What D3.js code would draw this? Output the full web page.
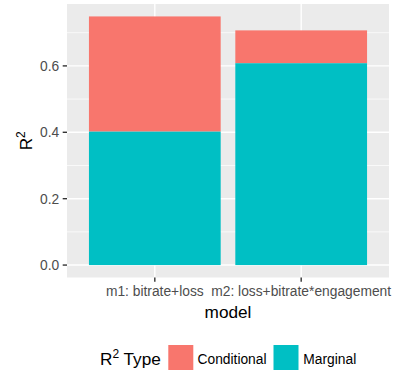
<!DOCTYPE html>
<html><head><meta charset="utf-8">
<script src="https://cdn.jsdelivr.net/npm/d3@7"></script>
<style>body{margin:0;background:#fff}text{font-family:"Liberation Sans",Arial,sans-serif}</style>
</head><body><svg id="c" width="394" height="374"></svg>
<script>
const models = ["m1: bitrate+loss", "m2: loss+bitrate*engagement"];
const marginal = [0.402, 0.608];
const conditional = [0.749, 0.707];
const yTicks = [0.0, 0.2, 0.4, 0.6];
const types = ["Conditional", "Marginal"];
const colors = ["#F8766D", "#00BFC4"];

const svg = d3.select("#c");
const L = 67, R = 389, T = 4, B = 277.5;
const FS = 13.8, TS = 17.2;
// ggplot discrete axis: expand 0.6 each side, bar width 0.9
const xc = d3.scaleLinear().domain([0.4, models.length + 0.6]).range([L, R]);
const ymax = d3.max(conditional);
const y = d3.scaleLinear().domain([-0.05*ymax, ymax*1.05]).range([B, T]);

svg.append("rect").attr("x", L).attr("y", T).attr("width", R-L).attr("height", B-T).attr("fill", "#EBEBEB");
const minor = [0.1, 0.3, 0.5, 0.7];
svg.selectAll(".mn").data(minor).enter().append("line")
  .attr("x1", L).attr("x2", R).attr("y1", d=>y(d)).attr("y2", d=>y(d))
  .attr("stroke", "#fff").attr("stroke-width", 0.7);
svg.selectAll(".mj").data(yTicks).enter().append("line")
  .attr("x1", L).attr("x2", R).attr("y1", d=>y(d)).attr("y2", d=>y(d))
  .attr("stroke", "#fff").attr("stroke-width", 1.4);
svg.selectAll(".vx").data(models).enter().append("line")
  .attr("x1", (d,i)=>xc(i+1)).attr("x2", (d,i)=>xc(i+1)).attr("y1", T).attr("y2", B)
  .attr("stroke", "#fff").attr("stroke-width", 1.4);

const bw = xc(1.45) - xc(0.55);
models.forEach((m,i)=>{
  svg.append("rect").attr("x", xc(i+1)-bw/2).attr("width", bw)
    .attr("y", y(conditional[i])).attr("height", y(marginal[i]) - y(conditional[i])).attr("fill", colors[0]);
  svg.append("rect").attr("x", xc(i+1)-bw/2).attr("width", bw)
    .attr("y", y(marginal[i])).attr("height", y(0) - y(marginal[i])).attr("fill", colors[1]);
});

// y axis
yTicks.forEach(t=>{
  svg.append("line").attr("x1", L-4.3).attr("x2", L).attr("y1", y(t)).attr("y2", y(t)).attr("stroke", "#333").attr("stroke-width", 1.4);
  svg.append("text").attr("x", L-7.8).attr("y", y(t)).attr("dy", "0.36em").attr("text-anchor", "end")
    .attr("font-size", FS).attr("fill", "#4D4D4D").text(d3.format(".1f")(t));
});
// x axis
models.forEach((m,i)=>{
  svg.append("line").attr("x1", xc(i+1)).attr("x2", xc(i+1)).attr("y1", B).attr("y2", B+4.3).attr("stroke", "#333").attr("stroke-width", 1.4);
  svg.append("text").attr("x", xc(i+1)).attr("y", 296).attr("text-anchor", "middle")
    .attr("font-size", FS).attr("fill", "#4D4D4D").text(m);
});
svg.append("text").attr("x", (L+R)/2).attr("y", 317.5).attr("text-anchor", "middle").attr("font-size", TS).attr("fill", "#000").text("model");
const yt = svg.append("text").attr("transform", `translate(31.5,${(T+B)/2}) rotate(-90)`).attr("text-anchor", "middle").attr("font-size", TS).attr("fill", "#000");
yt.append("tspan").text("R");
yt.append("tspan").attr("font-size", 12).attr("dy", -7).text("2");

// legend
const lt = svg.append("text").attr("x", 100).attr("y", 365).attr("font-size", TS).attr("fill", "#000");
lt.append("tspan").text("R");
lt.append("tspan").attr("font-size", 12).attr("dy", -7).text("2");
lt.append("tspan").attr("dy", 7).text(" Type");
const keyX = [168.3, 273.5], txtX = [197.5, 303.3];
types.forEach((t,i)=>{
  svg.append("rect").attr("x", keyX[i]).attr("y", 345).attr("width", 25).attr("height", 25).attr("fill", colors[i]);
  svg.append("text").attr("x", txtX[i]).attr("y", 363.5).attr("font-size", FS).attr("fill", "#000").text(t);
});
</script></body></html>
